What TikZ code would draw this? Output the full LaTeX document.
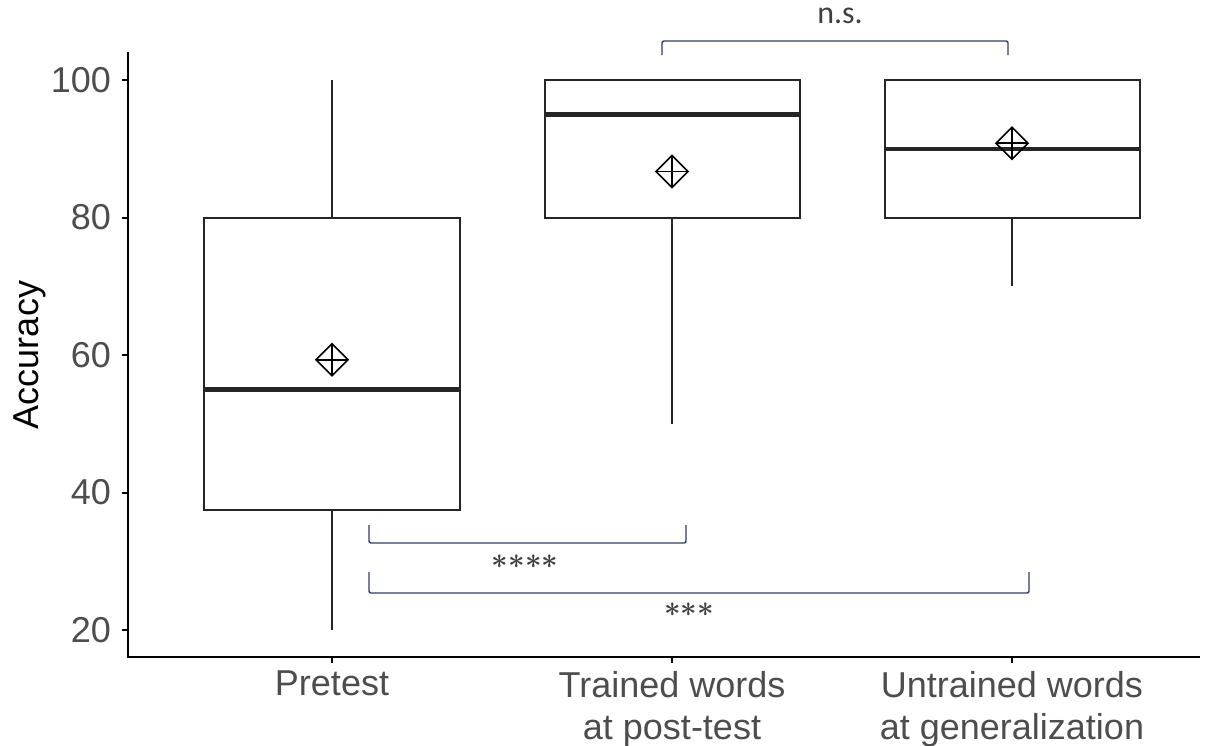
\documentclass[tikz,border=0pt]{standalone}
\usepackage{fontspec}
\setmainfont{Liberation Sans}
\newfontfamily\sigfont{Carlito}
\usetikzlibrary{positioning}
\definecolor{sigblue}{HTML}{2F3B6B}
\definecolor{tickgray}{HTML}{4D4D4D}

\begin{document}
\begin{tikzpicture}[x=0.5pt,y=-0.5pt,
        declare function={yp(\v)=80+(100-\v)*6.875;},
        box/.style={draw=black!85,line width=1pt},
        median/.style={draw=black!85,line width=2.2pt},
        axisline/.style={draw=black,line width=1pt},
        sig/.style={draw=sigblue,line width=0.7pt},
        ticklab/.style={text=tickgray,font=\fontsize{18}{21}\selectfont},
        siglab/.style={text=black!75,font=\sigfont\fontsize{16}{18}\selectfont},
        stars/.style={text=black!75,font=\fontsize{15.5}{18}\selectfont\boldmath},
        meanmark/.pic={
            \draw[line width=0.8pt] (0,-16) -- (16,0) -- (0,16) -- (-16,0) -- cycle;
            \draw[line width=0.8pt] (0,-16) -- (0,16) (-16,0) -- (16,0);
        }]
    \useasboundingbox (0,0) rectangle (1210,745);

    % axes
    \coordinate (o) at (128,657);
    \coordinate (ytop) at (128,52);
    \coordinate (xend) at (1200,657);
    \draw[axisline] (ytop) -- (o) -- (xend);
    \foreach \v in {20,40,60,80,100} {
        \draw[axisline] (122,{yp(\v)}) -- (128,{yp(\v)});
        \node[ticklab,anchor=east] (t\v) at (118,{yp(\v)}) {\v};
    }
    \node[rotate=90,font=\fontsize{18}{21}\selectfont] (ylab) at (30,355) {Accuracy};

    % pretest
    \draw[box] (332,{yp(20)}) -- (332,{yp(37.5)}) (332,{yp(80)}) -- (332,{yp(100)});
    \draw[box] (204,{yp(37.5)}) rectangle (460,{yp(80)});
    \draw[median] (204,{yp(55)}) -- (460,{yp(55)});
    \pic at (332,{yp(59.3)}) {meanmark};

    % trained words
    \draw[box] (672,{yp(50)}) -- (672,{yp(80)});
    \draw[box] (545,{yp(80)}) rectangle (800,{yp(100)});
    \draw[median] (545,{yp(95)}) -- (800,{yp(95)});
    \pic at (672,{yp(86.7)}) {meanmark};

    % untrained words
    \draw[box] (1012,{yp(70)}) -- (1012,{yp(80)});
    \draw[box] (885,{yp(80)}) rectangle (1140,{yp(100)});
    \draw[median] (885,{yp(90)}) -- (1140,{yp(90)});
    \pic at (1012,{yp(90.8)}) {meanmark};

    % x ticks and labels
    \foreach \x/\n in {332/pre,672/tr,1012/un}
        \draw[axisline] (\x,657) -- (\x,663);
    \node[ticklab,anchor=north,align=center] (lpre) at (332,664) {Pretest};
    \node[ticklab,anchor=north,align=center] (ltr) at (672,664) {Trained words\\at post-test};
    \node[ticklab,anchor=north,align=center] (lun) at (1012,664) {Untrained words\\at generalization};

    % significance brackets
    \coordinate (a1) at (369,525);
    \coordinate (a2) at (686,525);
    \draw[sig,rounded corners=1pt] (a1) -- (369,543) -- (686,543) -- (a2);
    \node[stars] (s4) at (525,562) {${\ast}{\ast}{\ast}{\ast}$};
    \coordinate (b1) at (369,572);
    \coordinate (b2) at (1029,572);
    \draw[sig,rounded corners=1pt] (b1) -- (369,593) -- (1029,593) -- (b2);
    \node[stars] (s3) at (689,610) {${\ast}{\ast}{\ast}$};
    \coordinate (c1) at (662,55);
    \coordinate (c2) at (1008,55);
    \draw[sig,rounded corners=1pt] (c1) -- (662,41) -- (1008,41) -- (c2);
    \node[siglab] (ns) at (840,16) {n.s.};
\end{tikzpicture}
\end{document}
